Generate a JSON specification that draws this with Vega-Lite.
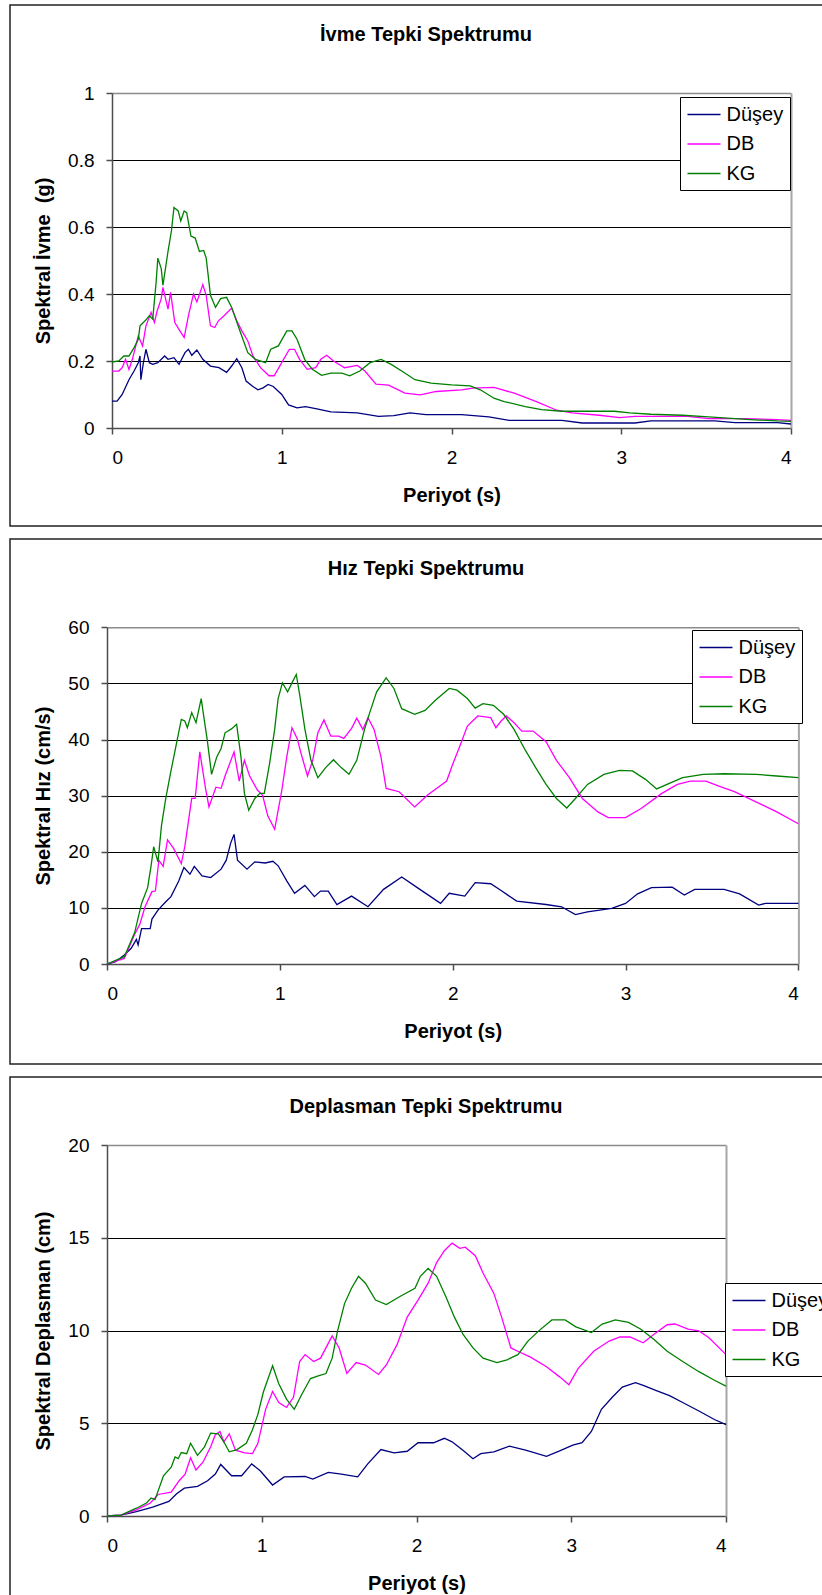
{
"$schema": "https://vega.github.io/schema/vega-lite/v6.json",
"padding": {"left": 9, "top": 4, "right": 0, "bottom": 0},
"background": "white",
"spacing": 11,
"config": {
  "font": "Liberation Sans",
  "view": {"stroke": "#222222", "strokeWidth": 1.5},
  "axis": {"labelFont": "Liberation Sans", "labelFontSize": 19, "labelColor": "black", "titleFont": "Liberation Sans", "titleFontSize": 20, "titleFontWeight": "bold", "titleColor": "black", "tickColor": "#4d4d4d", "tickSize": 6, "tickWidth": 1.5, "domainColor": "#4d4d4d", "domainWidth": 1.5, "gridColor": "black", "gridWidth": 1},
  "legend": {"labelFont": "Liberation Sans", "labelFontSize": 20, "labelColor": "black"},
  "title": {"font": "Liberation Sans", "fontSize": 20, "fontWeight": "bold", "color": "black", "baseline": "middle", "offset": -40}
},
"datasets": {
"ivme": [
{"periyot":0,"seri":"Düşey","deger":0.08},{"periyot":0.03,"seri":"Düşey","deger":0.08},{"periyot":0.06,"seri":"Düşey","deger":0.10},{"periyot":0.10,"seri":"Düşey","deger":0.144},{"periyot":0.13,"seri":"Düşey","deger":0.17},{"periyot":0.155,"seri":"Düşey","deger":0.195},{"periyot":0.165,"seri":"Düşey","deger":0.215},{"periyot":0.17,"seri":"Düşey","deger":0.144},{"periyot":0.185,"seri":"Düşey","deger":0.195},{"periyot":0.20,"seri":"Düşey","deger":0.235},{"periyot":0.22,"seri":"Düşey","deger":0.195},{"periyot":0.24,"seri":"Düşey","deger":0.19},{"periyot":0.27,"seri":"Düşey","deger":0.195},{"periyot":0.31,"seri":"Düşey","deger":0.215},{"periyot":0.33,"seri":"Düşey","deger":0.205},{"periyot":0.365,"seri":"Düşey","deger":0.21},{"periyot":0.395,"seri":"Düşey","deger":0.19},{"periyot":0.43,"seri":"Düşey","deger":0.225},{"periyot":0.45,"seri":"Düşey","deger":0.235},{"periyot":0.47,"seri":"Düşey","deger":0.217},{"periyot":0.50,"seri":"Düşey","deger":0.233},{"periyot":0.535,"seri":"Düşey","deger":0.205},{"periyot":0.58,"seri":"Düşey","deger":0.185},{"periyot":0.63,"seri":"Düşey","deger":0.18},{"periyot":0.675,"seri":"Düşey","deger":0.166},{"periyot":0.705,"seri":"Düşey","deger":0.185},{"periyot":0.735,"seri":"Düşey","deger":0.207},{"periyot":0.765,"seri":"Düşey","deger":0.18},{"periyot":0.79,"seri":"Düşey","deger":0.14},{"periyot":0.83,"seri":"Düşey","deger":0.124},{"periyot":0.86,"seri":"Düşey","deger":0.114},{"periyot":0.89,"seri":"Düşey","deger":0.12},{"periyot":0.92,"seri":"Düşey","deger":0.13},{"periyot":0.95,"seri":"Düşey","deger":0.124},{"periyot":1.0,"seri":"Düşey","deger":0.1},{"periyot":1.04,"seri":"Düşey","deger":0.069},{"periyot":1.09,"seri":"Düşey","deger":0.06},{"periyot":1.14,"seri":"Düşey","deger":0.064},{"periyot":1.2,"seri":"Düşey","deger":0.058},{"periyot":1.29,"seri":"Düşey","deger":0.048},{"periyot":1.445,"seri":"Düşey","deger":0.045},{"periyot":1.57,"seri":"Düşey","deger":0.035},{"periyot":1.66,"seri":"Düşey","deger":0.037},{"periyot":1.755,"seri":"Düşey","deger":0.045},{"periyot":1.85,"seri":"Düşey","deger":0.04},{"periyot":2.06,"seri":"Düşey","deger":0.04},{"periyot":2.22,"seri":"Düşey","deger":0.033},{"periyot":2.34,"seri":"Düşey","deger":0.023},{"periyot":2.65,"seri":"Düşey","deger":0.023},{"periyot":2.77,"seri":"Düşey","deger":0.015},{"periyot":3.08,"seri":"Düşey","deger":0.015},{"periyot":3.175,"seri":"Düşey","deger":0.021},{"periyot":3.55,"seri":"Düşey","deger":0.021},{"periyot":3.67,"seri":"Düşey","deger":0.016},{"periyot":3.92,"seri":"Düşey","deger":0.016},{"periyot":4.0,"seri":"Düşey","deger":0.012},
{"periyot":0,"seri":"DB","deger":0.17},{"periyot":0.04,"seri":"DB","deger":0.17},{"periyot":0.06,"seri":"DB","deger":0.18},{"periyot":0.08,"seri":"DB","deger":0.205},{"periyot":0.10,"seri":"DB","deger":0.175},{"periyot":0.12,"seri":"DB","deger":0.205},{"periyot":0.14,"seri":"DB","deger":0.245},{"periyot":0.155,"seri":"DB","deger":0.275},{"periyot":0.18,"seri":"DB","deger":0.245},{"periyot":0.20,"seri":"DB","deger":0.305},{"periyot":0.23,"seri":"DB","deger":0.345},{"periyot":0.25,"seri":"DB","deger":0.315},{"periyot":0.265,"seri":"DB","deger":0.348},{"periyot":0.29,"seri":"DB","deger":0.386},{"periyot":0.30,"seri":"DB","deger":0.42},{"periyot":0.33,"seri":"DB","deger":0.355},{"periyot":0.345,"seri":"DB","deger":0.405},{"periyot":0.37,"seri":"DB","deger":0.315},{"periyot":0.40,"seri":"DB","deger":0.29},{"periyot":0.425,"seri":"DB","deger":0.27},{"periyot":0.45,"seri":"DB","deger":0.335},{"periyot":0.48,"seri":"DB","deger":0.40},{"periyot":0.50,"seri":"DB","deger":0.376},{"periyot":0.535,"seri":"DB","deger":0.428},{"periyot":0.555,"seri":"DB","deger":0.395},{"periyot":0.58,"seri":"DB","deger":0.305},{"periyot":0.605,"seri":"DB","deger":0.30},{"periyot":0.627,"seri":"DB","deger":0.32},{"periyot":0.66,"seri":"DB","deger":0.335},{"periyot":0.705,"seri":"DB","deger":0.358},{"periyot":0.735,"seri":"DB","deger":0.32},{"periyot":0.765,"seri":"DB","deger":0.29},{"periyot":0.80,"seri":"DB","deger":0.26},{"periyot":0.83,"seri":"DB","deger":0.215},{"periyot":0.875,"seri":"DB","deger":0.18},{"periyot":0.925,"seri":"DB","deger":0.156},{"periyot":0.955,"seri":"DB","deger":0.156},{"periyot":1.0,"seri":"DB","deger":0.195},{"periyot":1.045,"seri":"DB","deger":0.235},{"periyot":1.075,"seri":"DB","deger":0.235},{"periyot":1.105,"seri":"DB","deger":0.205},{"periyot":1.15,"seri":"DB","deger":0.175},{"periyot":1.2,"seri":"DB","deger":0.18},{"periyot":1.23,"seri":"DB","deger":0.205},{"periyot":1.265,"seri":"DB","deger":0.217},{"periyot":1.305,"seri":"DB","deger":0.2},{"periyot":1.37,"seri":"DB","deger":0.18},{"periyot":1.445,"seri":"DB","deger":0.187},{"periyot":1.49,"seri":"DB","deger":0.17},{"periyot":1.555,"seri":"DB","deger":0.131},{"periyot":1.63,"seri":"DB","deger":0.128},{"periyot":1.725,"seri":"DB","deger":0.104},{"periyot":1.815,"seri":"DB","deger":0.099},{"periyot":1.91,"seri":"DB","deger":0.109},{"periyot":2.06,"seri":"DB","deger":0.114},{"periyot":2.125,"seri":"DB","deger":0.119},{"periyot":2.25,"seri":"DB","deger":0.121},{"periyot":2.37,"seri":"DB","deger":0.104},{"periyot":2.5,"seri":"DB","deger":0.079},{"periyot":2.62,"seri":"DB","deger":0.053},{"periyot":2.71,"seri":"DB","deger":0.045},{"periyot":2.87,"seri":"DB","deger":0.038},{"periyot":2.99,"seri":"DB","deger":0.031},{"periyot":3.08,"seri":"DB","deger":0.035},{"periyot":3.39,"seri":"DB","deger":0.035},{"periyot":3.515,"seri":"DB","deger":0.028},{"periyot":3.73,"seri":"DB","deger":0.028},{"periyot":3.92,"seri":"DB","deger":0.025},{"periyot":4.0,"seri":"DB","deger":0.023},
{"periyot":0,"seri":"KG","deger":0.197},{"periyot":0.04,"seri":"KG","deger":0.2},{"periyot":0.07,"seri":"KG","deger":0.215},{"periyot":0.10,"seri":"KG","deger":0.215},{"periyot":0.13,"seri":"KG","deger":0.24},{"periyot":0.155,"seri":"KG","deger":0.265},{"periyot":0.165,"seri":"KG","deger":0.305},{"periyot":0.195,"seri":"KG","deger":0.32},{"periyot":0.22,"seri":"KG","deger":0.335},{"periyot":0.24,"seri":"KG","deger":0.325},{"periyot":0.26,"seri":"KG","deger":0.436},{"periyot":0.27,"seri":"KG","deger":0.507},{"periyot":0.29,"seri":"KG","deger":0.476},{"periyot":0.30,"seri":"KG","deger":0.426},{"periyot":0.33,"seri":"KG","deger":0.527},{"periyot":0.35,"seri":"KG","deger":0.588},{"periyot":0.365,"seri":"KG","deger":0.658},{"periyot":0.39,"seri":"KG","deger":0.648},{"periyot":0.405,"seri":"KG","deger":0.618},{"periyot":0.425,"seri":"KG","deger":0.648},{"periyot":0.44,"seri":"KG","deger":0.643},{"periyot":0.465,"seri":"KG","deger":0.573},{"periyot":0.49,"seri":"KG","deger":0.567},{"periyot":0.515,"seri":"KG","deger":0.527},{"periyot":0.54,"seri":"KG","deger":0.53},{"periyot":0.555,"seri":"KG","deger":0.507},{"periyot":0.58,"seri":"KG","deger":0.396},{"periyot":0.61,"seri":"KG","deger":0.36},{"periyot":0.64,"seri":"KG","deger":0.386},{"periyot":0.675,"seri":"KG","deger":0.39},{"periyot":0.705,"seri":"KG","deger":0.36},{"periyot":0.75,"seri":"KG","deger":0.295},{"periyot":0.80,"seri":"KG","deger":0.225},{"periyot":0.845,"seri":"KG","deger":0.205},{"periyot":0.905,"seri":"KG","deger":0.195},{"periyot":0.935,"seri":"KG","deger":0.235},{"periyot":0.98,"seri":"KG","deger":0.245},{"periyot":1.03,"seri":"KG","deger":0.29},{"periyot":1.06,"seri":"KG","deger":0.29},{"periyot":1.09,"seri":"KG","deger":0.265},{"periyot":1.135,"seri":"KG","deger":0.205},{"periyot":1.18,"seri":"KG","deger":0.175},{"periyot":1.235,"seri":"KG","deger":0.157},{"periyot":1.29,"seri":"KG","deger":0.164},{"periyot":1.355,"seri":"KG","deger":0.164},{"periyot":1.40,"seri":"KG","deger":0.156},{"periyot":1.46,"seri":"KG","deger":0.17},{"periyot":1.52,"seri":"KG","deger":0.195},{"periyot":1.585,"seri":"KG","deger":0.205},{"periyot":1.645,"seri":"KG","deger":0.19},{"periyot":1.725,"seri":"KG","deger":0.164},{"periyot":1.785,"seri":"KG","deger":0.144},{"periyot":1.88,"seri":"KG","deger":0.134},{"periyot":2.0,"seri":"KG","deger":0.129},{"periyot":2.11,"seri":"KG","deger":0.126},{"periyot":2.17,"seri":"KG","deger":0.114},{"periyot":2.25,"seri":"KG","deger":0.089},{"periyot":2.31,"seri":"KG","deger":0.079},{"periyot":2.435,"seri":"KG","deger":0.064},{"periyot":2.53,"seri":"KG","deger":0.055},{"periyot":2.65,"seri":"KG","deger":0.05},{"periyot":2.96,"seri":"KG","deger":0.05},{"periyot":3.05,"seri":"KG","deger":0.045},{"periyot":3.175,"seri":"KG","deger":0.041},{"periyot":3.36,"seri":"KG","deger":0.038},{"periyot":3.515,"seri":"KG","deger":0.033},{"periyot":3.76,"seri":"KG","deger":0.025},{"periyot":3.92,"seri":"KG","deger":0.021},{"periyot":4.0,"seri":"KG","deger":0.02}
],
"hiz": [
{"periyot":0,"seri":"Düşey","deger":0},{"periyot":0.05,"seri":"Düşey","deger":0.4},{"periyot":0.1,"seri":"Düşey","deger":1.6},{"periyot":0.14,"seri":"Düşey","deger":2.8},{"periyot":0.17,"seri":"Düşey","deger":4.4},{"periyot":0.18,"seri":"Düşey","deger":3.4},{"periyot":0.2,"seri":"Düşey","deger":6.3},{"periyot":0.25,"seri":"Düşey","deger":6.3},{"periyot":0.26,"seri":"Düşey","deger":8},{"periyot":0.295,"seri":"Düşey","deger":9.6},{"periyot":0.34,"seri":"Düşey","deger":11.1},{"periyot":0.37,"seri":"Düşey","deger":12},{"periyot":0.415,"seri":"Düşey","deger":14.8},{"periyot":0.445,"seri":"Düşey","deger":17.2},{"periyot":0.48,"seri":"Düşey","deger":16},{"periyot":0.505,"seri":"Düşey","deger":17.4},{"periyot":0.55,"seri":"Düşey","deger":15.7},{"periyot":0.6,"seri":"Düşey","deger":15.4},{"periyot":0.66,"seri":"Düşey","deger":16.9},{"periyot":0.69,"seri":"Düşey","deger":18.5},{"periyot":0.715,"seri":"Düşey","deger":21.5},{"periyot":0.735,"seri":"Düşey","deger":23.1},{"periyot":0.755,"seri":"Düşey","deger":18.5},{"periyot":0.81,"seri":"Düşey","deger":16.9},{"periyot":0.855,"seri":"Düşey","deger":18.2},{"periyot":0.915,"seri":"Düşey","deger":18},{"periyot":0.96,"seri":"Düşey","deger":18.3},{"periyot":0.99,"seri":"Düşey","deger":17.5},{"periyot":1.04,"seri":"Düşey","deger":14.8},{"periyot":1.085,"seri":"Düşey","deger":12.6},{"periyot":1.145,"seri":"Düşey","deger":14},{"periyot":1.2,"seri":"Düşey","deger":12},{"periyot":1.235,"seri":"Düşey","deger":13},{"periyot":1.28,"seri":"Düşey","deger":13},{"periyot":1.33,"seri":"Düşey","deger":10.6},{"periyot":1.415,"seri":"Düşey","deger":12.1},{"periyot":1.51,"seri":"Düşey","deger":10.2},{"periyot":1.6,"seri":"Düşey","deger":13.3},{"periyot":1.705,"seri":"Düşey","deger":15.5},{"periyot":1.81,"seri":"Düşey","deger":13.3},{"periyot":1.93,"seri":"Düşey","deger":10.8},{"periyot":1.98,"seri":"Düşey","deger":12.6},{"periyot":2.07,"seri":"Düşey","deger":12.1},{"periyot":2.13,"seri":"Düşey","deger":14.5},{"periyot":2.22,"seri":"Düşey","deger":14.3},{"periyot":2.28,"seri":"Düşey","deger":13.1},{"periyot":2.37,"seri":"Düşey","deger":11.2},{"periyot":2.54,"seri":"Düşey","deger":10.6},{"periyot":2.63,"seri":"Düşey","deger":10.2},{"periyot":2.71,"seri":"Düşey","deger":8.8},{"periyot":2.78,"seri":"Düşey","deger":9.3},{"periyot":2.92,"seri":"Düşey","deger":9.9},{"periyot":3.0,"seri":"Düşey","deger":10.8},{"periyot":3.07,"seri":"Düşey","deger":12.5},{"periyot":3.15,"seri":"Düşey","deger":13.6},{"periyot":3.27,"seri":"Düşey","deger":13.7},{"periyot":3.34,"seri":"Düşey","deger":12.3},{"periyot":3.4,"seri":"Düşey","deger":13.3},{"periyot":3.57,"seri":"Düşey","deger":13.3},{"periyot":3.66,"seri":"Düşey","deger":12.5},{"periyot":3.77,"seri":"Düşey","deger":10.5},{"periyot":3.81,"seri":"Düşey","deger":10.8},{"periyot":4.0,"seri":"Düşey","deger":10.8},
{"periyot":0,"seri":"DB","deger":0},{"periyot":0.1,"seri":"DB","deger":1},{"periyot":0.16,"seri":"DB","deger":5.3},{"periyot":0.19,"seri":"DB","deger":7.1},{"periyot":0.22,"seri":"DB","deger":10.2},{"periyot":0.26,"seri":"DB","deger":12.9},{"periyot":0.28,"seri":"DB","deger":13},{"periyot":0.3,"seri":"DB","deger":18.5},{"periyot":0.325,"seri":"DB","deger":17.4},{"periyot":0.35,"seri":"DB","deger":22.1},{"periyot":0.385,"seri":"DB","deger":20.6},{"periyot":0.43,"seri":"DB","deger":17.9},{"periyot":0.45,"seri":"DB","deger":20.9},{"periyot":0.47,"seri":"DB","deger":25.2},{"periyot":0.49,"seri":"DB","deger":29.5},{"periyot":0.51,"seri":"DB","deger":29.5},{"periyot":0.537,"seri":"DB","deger":37.8},{"periyot":0.57,"seri":"DB","deger":31.3},{"periyot":0.59,"seri":"DB","deger":28},{"periyot":0.63,"seri":"DB","deger":31.5},{"periyot":0.66,"seri":"DB","deger":31.3},{"periyot":0.683,"seri":"DB","deger":33.5},{"periyot":0.735,"seri":"DB","deger":37.8},{"periyot":0.765,"seri":"DB","deger":32.6},{"periyot":0.795,"seri":"DB","deger":36.3},{"periyot":0.825,"seri":"DB","deger":33.5},{"periyot":0.87,"seri":"DB","deger":31},{"periyot":0.9,"seri":"DB","deger":30.1},{"periyot":0.93,"seri":"DB","deger":26.4},{"periyot":0.97,"seri":"DB","deger":24},{"periyot":1.01,"seri":"DB","deger":30.7},{"periyot":1.04,"seri":"DB","deger":36.9},{"periyot":1.07,"seri":"DB","deger":42.1},{"periyot":1.1,"seri":"DB","deger":40.2},{"periyot":1.12,"seri":"DB","deger":37.8},{"periyot":1.16,"seri":"DB","deger":33.5},{"periyot":1.19,"seri":"DB","deger":36.3},{"periyot":1.22,"seri":"DB","deger":41.2},{"periyot":1.255,"seri":"DB","deger":43.5},{"periyot":1.295,"seri":"DB","deger":40.6},{"periyot":1.34,"seri":"DB","deger":40.6},{"periyot":1.37,"seri":"DB","deger":40.2},{"periyot":1.415,"seri":"DB","deger":42},{"periyot":1.445,"seri":"DB","deger":43.8},{"periyot":1.48,"seri":"DB","deger":41.8},{"periyot":1.51,"seri":"DB","deger":43.9},{"periyot":1.545,"seri":"DB","deger":41.8},{"periyot":1.585,"seri":"DB","deger":36.9},{"periyot":1.615,"seri":"DB","deger":31.3},{"periyot":1.69,"seri":"DB","deger":30.7},{"periyot":1.78,"seri":"DB","deger":28},{"periyot":1.855,"seri":"DB","deger":30.1},{"periyot":1.965,"seri":"DB","deger":32.6},{"periyot":2.0,"seri":"DB","deger":35.6},{"periyot":2.04,"seri":"DB","deger":38.7},{"periyot":2.085,"seri":"DB","deger":42.4},{"periyot":2.145,"seri":"DB","deger":44.2},{"periyot":2.22,"seri":"DB","deger":43.9},{"periyot":2.25,"seri":"DB","deger":42.1},{"periyot":2.28,"seri":"DB","deger":43.3},{"periyot":2.31,"seri":"DB","deger":44.2},{"periyot":2.355,"seri":"DB","deger":43},{"periyot":2.4,"seri":"DB","deger":41.5},{"periyot":2.465,"seri":"DB","deger":41.5},{"periyot":2.54,"seri":"DB","deger":39.6},{"periyot":2.6,"seri":"DB","deger":36.3},{"periyot":2.675,"seri":"DB","deger":33.2},{"periyot":2.75,"seri":"DB","deger":29.5},{"periyot":2.84,"seri":"DB","deger":27.1},{"periyot":2.9,"seri":"DB","deger":26.1},{"periyot":3.0,"seri":"DB","deger":26.1},{"periyot":3.09,"seri":"DB","deger":27.7},{"periyot":3.21,"seri":"DB","deger":30.4},{"periyot":3.3,"seri":"DB","deger":32},{"periyot":3.375,"seri":"DB","deger":32.6},{"periyot":3.465,"seri":"DB","deger":32.6},{"periyot":3.54,"seri":"DB","deger":31.7},{"periyot":3.63,"seri":"DB","deger":30.7},{"periyot":3.755,"seri":"DB","deger":28.9},{"periyot":3.875,"seri":"DB","deger":27.1},{"periyot":4.0,"seri":"DB","deger":25},
{"periyot":0,"seri":"KG","deger":0},{"periyot":0.1,"seri":"KG","deger":1.3},{"periyot":0.16,"seri":"KG","deger":5.6},{"periyot":0.2,"seri":"KG","deger":10.8},{"periyot":0.235,"seri":"KG","deger":13.6},{"periyot":0.255,"seri":"KG","deger":17.5},{"periyot":0.27,"seri":"KG","deger":20.9},{"periyot":0.295,"seri":"KG","deger":18.2},{"periyot":0.315,"seri":"KG","deger":24.6},{"periyot":0.34,"seri":"KG","deger":29.5},{"periyot":0.37,"seri":"KG","deger":34.4},{"periyot":0.4,"seri":"KG","deger":39},{"periyot":0.43,"seri":"KG","deger":43.6},{"periyot":0.45,"seri":"KG","deger":43.3},{"periyot":0.465,"seri":"KG","deger":42.1},{"periyot":0.49,"seri":"KG","deger":44.8},{"periyot":0.515,"seri":"KG","deger":43},{"periyot":0.545,"seri":"KG","deger":47.3},{"periyot":0.565,"seri":"KG","deger":43},{"periyot":0.58,"seri":"KG","deger":39.9},{"periyot":0.605,"seri":"KG","deger":33.8},{"periyot":0.635,"seri":"KG","deger":36.9},{"periyot":0.66,"seri":"KG","deger":38.4},{"periyot":0.683,"seri":"KG","deger":41.2},{"periyot":0.72,"seri":"KG","deger":41.9},{"periyot":0.75,"seri":"KG","deger":42.7},{"periyot":0.775,"seri":"KG","deger":36.9},{"periyot":0.795,"seri":"KG","deger":30.4},{"periyot":0.82,"seri":"KG","deger":27.4},{"periyot":0.855,"seri":"KG","deger":29.5},{"periyot":0.885,"seri":"KG","deger":30.4},{"periyot":0.91,"seri":"KG","deger":30.4},{"periyot":0.94,"seri":"KG","deger":35.6},{"periyot":0.97,"seri":"KG","deger":41.8},{"periyot":0.99,"seri":"KG","deger":47.3},{"periyot":1.015,"seri":"KG","deger":50.1},{"periyot":1.045,"seri":"KG","deger":48.5},{"periyot":1.07,"seri":"KG","deger":50.1},{"periyot":1.095,"seri":"KG","deger":51.6},{"periyot":1.115,"seri":"KG","deger":47.9},{"periyot":1.145,"seri":"KG","deger":41.8},{"periyot":1.18,"seri":"KG","deger":36.3},{"periyot":1.22,"seri":"KG","deger":33.2},{"periyot":1.265,"seri":"KG","deger":35},{"periyot":1.31,"seri":"KG","deger":36.4},{"periyot":1.355,"seri":"KG","deger":35},{"periyot":1.4,"seri":"KG","deger":33.8},{"periyot":1.445,"seri":"KG","deger":36.3},{"periyot":1.49,"seri":"KG","deger":41.8},{"periyot":1.52,"seri":"KG","deger":44.8},{"periyot":1.56,"seri":"KG","deger":48.5},{"periyot":1.615,"seri":"KG","deger":51},{"periyot":1.66,"seri":"KG","deger":49.1},{"periyot":1.705,"seri":"KG","deger":45.5},{"periyot":1.78,"seri":"KG","deger":44.5},{"periyot":1.84,"seri":"KG","deger":45.2},{"periyot":1.9,"seri":"KG","deger":47},{"periyot":1.98,"seri":"KG","deger":49.1},{"periyot":2.025,"seri":"KG","deger":48.8},{"periyot":2.085,"seri":"KG","deger":47.3},{"periyot":2.13,"seri":"KG","deger":45.6},{"periyot":2.175,"seri":"KG","deger":46.4},{"periyot":2.235,"seri":"KG","deger":46.1},{"periyot":2.295,"seri":"KG","deger":44.5},{"periyot":2.355,"seri":"KG","deger":41.8},{"periyot":2.42,"seri":"KG","deger":38.1},{"periyot":2.48,"seri":"KG","deger":35},{"periyot":2.54,"seri":"KG","deger":32},{"periyot":2.6,"seri":"KG","deger":29.5},{"periyot":2.66,"seri":"KG","deger":27.8},{"periyot":2.71,"seri":"KG","deger":29.5},{"periyot":2.78,"seri":"KG","deger":32},{"periyot":2.875,"seri":"KG","deger":33.8},{"periyot":2.965,"seri":"KG","deger":34.5},{"periyot":3.04,"seri":"KG","deger":34.4},{"periyot":3.115,"seri":"KG","deger":32.9},{"periyot":3.18,"seri":"KG","deger":31.2},{"periyot":3.24,"seri":"KG","deger":32},{"periyot":3.33,"seri":"KG","deger":33.2},{"periyot":3.45,"seri":"KG","deger":33.8},{"periyot":3.57,"seri":"KG","deger":33.9},{"periyot":3.755,"seri":"KG","deger":33.8},{"periyot":3.875,"seri":"KG","deger":33.5},{"periyot":4.0,"seri":"KG","deger":33.2}
],
"depl": [
{"periyot":0,"seri":"Düşey","deger":0},{"periyot":0.09,"seri":"Düşey","deger":0.05},{"periyot":0.19,"seri":"Düşey","deger":0.24},{"periyot":0.295,"seri":"Düşey","deger":0.48},{"periyot":0.4,"seri":"Düşey","deger":0.79},{"periyot":0.45,"seri":"Düşey","deger":1.2},{"periyot":0.5,"seri":"Düşey","deger":1.5},{"periyot":0.585,"seri":"Düşey","deger":1.6},{"periyot":0.65,"seri":"Düşey","deger":1.9},{"periyot":0.7,"seri":"Düşey","deger":2.26},{"periyot":0.735,"seri":"Düşey","deger":2.78},{"periyot":0.805,"seri":"Düşey","deger":2.17},{"periyot":0.87,"seri":"Düşey","deger":2.17},{"periyot":0.935,"seri":"Düşey","deger":2.81},{"periyot":0.99,"seri":"Düşey","deger":2.44},{"periyot":1.07,"seri":"Düşey","deger":1.67},{"periyot":1.145,"seri":"Düşey","deger":2.11},{"periyot":1.28,"seri":"Düşey","deger":2.13},{"periyot":1.33,"seri":"Düşey","deger":1.99},{"periyot":1.43,"seri":"Düşey","deger":2.35},{"periyot":1.515,"seri":"Düşey","deger":2.26},{"periyot":1.62,"seri":"Düşey","deger":2.11},{"periyot":1.685,"seri":"Düşey","deger":2.81},{"periyot":1.77,"seri":"Düşey","deger":3.58},{"periyot":1.855,"seri":"Düşey","deger":3.4},{"periyot":1.94,"seri":"Düşey","deger":3.49},{"periyot":2.01,"seri":"Düşey","deger":3.95},{"periyot":2.11,"seri":"Düşey","deger":3.95},{"periyot":2.18,"seri":"Düşey","deger":4.19},{"periyot":2.23,"seri":"Düşey","deger":4.0},{"periyot":2.3,"seri":"Düşey","deger":3.55},{"periyot":2.365,"seri":"Düşey","deger":3.09},{"periyot":2.415,"seri":"Düşey","deger":3.36},{"periyot":2.5,"seri":"Düşey","deger":3.46},{"periyot":2.6,"seri":"Düşey","deger":3.77},{"periyot":2.705,"seri":"Düşey","deger":3.55},{"periyot":2.84,"seri":"Düşey","deger":3.22},{"periyot":2.925,"seri":"Düşey","deger":3.51},{"periyot":3.01,"seri":"Düşey","deger":3.82},{"periyot":3.07,"seri":"Düşey","deger":3.95},{"periyot":3.13,"seri":"Düşey","deger":4.56},{"periyot":3.195,"seri":"Düşey","deger":5.75},{"periyot":3.265,"seri":"Düşey","deger":6.4},{"periyot":3.33,"seri":"Düşey","deger":6.95},{"periyot":3.415,"seri":"Düşey","deger":7.19},{"periyot":3.465,"seri":"Düşey","deger":7.04},{"periyot":3.55,"seri":"Düşey","deger":6.76},{"periyot":3.635,"seri":"Düşey","deger":6.49},{"periyot":3.72,"seri":"Düşey","deger":6.12},{"periyot":3.825,"seri":"Düşey","deger":5.66},{"periyot":3.925,"seri":"Düşey","deger":5.2},{"periyot":4.0,"seri":"Düşey","deger":4.93},
{"periyot":0,"seri":"DB","deger":0},{"periyot":0.09,"seri":"DB","deger":0.05},{"periyot":0.19,"seri":"DB","deger":0.33},{"periyot":0.28,"seri":"DB","deger":0.7},{"periyot":0.33,"seri":"DB","deger":1.16},{"periyot":0.415,"seri":"DB","deger":1.29},{"periyot":0.465,"seri":"DB","deger":1.89},{"periyot":0.505,"seri":"DB","deger":2.26},{"periyot":0.54,"seri":"DB","deger":3.14},{"periyot":0.575,"seri":"DB","deger":2.48},{"periyot":0.62,"seri":"DB","deger":2.9},{"periyot":0.67,"seri":"DB","deger":3.73},{"periyot":0.7,"seri":"DB","deger":4.38},{"periyot":0.73,"seri":"DB","deger":4.56},{"periyot":0.755,"seri":"DB","deger":4.0},{"periyot":0.79,"seri":"DB","deger":4.43},{"periyot":0.83,"seri":"DB","deger":3.55},{"periyot":0.89,"seri":"DB","deger":3.4},{"periyot":0.94,"seri":"DB","deger":3.36},{"periyot":0.975,"seri":"DB","deger":3.92},{"periyot":1.025,"seri":"DB","deger":5.75},{"periyot":1.07,"seri":"DB","deger":6.71},{"periyot":1.11,"seri":"DB","deger":6.12},{"periyot":1.16,"seri":"DB","deger":5.85},{"periyot":1.205,"seri":"DB","deger":6.4},{"periyot":1.245,"seri":"DB","deger":8.33},{"periyot":1.28,"seri":"DB","deger":8.7},{"periyot":1.335,"seri":"DB","deger":8.33},{"periyot":1.38,"seri":"DB","deger":8.51},{"periyot":1.455,"seri":"DB","deger":9.71},{"periyot":1.5,"seri":"DB","deger":9.06},{"periyot":1.55,"seri":"DB","deger":7.68},{"periyot":1.61,"seri":"DB","deger":8.27},{"periyot":1.67,"seri":"DB","deger":8.14},{"periyot":1.755,"seri":"DB","deger":7.63},{"periyot":1.805,"seri":"DB","deger":8.14},{"periyot":1.875,"seri":"DB","deger":9.25},{"periyot":1.94,"seri":"DB","deger":10.72},{"periyot":2.01,"seri":"DB","deger":11.64},{"periyot":2.075,"seri":"DB","deger":12.55},{"periyot":2.13,"seri":"DB","deger":13.66},{"periyot":2.18,"seri":"DB","deger":14.3},{"periyot":2.23,"seri":"DB","deger":14.71},{"periyot":2.28,"seri":"DB","deger":14.43},{"periyot":2.315,"seri":"DB","deger":14.49},{"periyot":2.38,"seri":"DB","deger":14.03},{"periyot":2.43,"seri":"DB","deger":13.1},{"periyot":2.5,"seri":"DB","deger":12},{"periyot":2.55,"seri":"DB","deger":10.72},{"periyot":2.61,"seri":"DB","deger":9.06},{"periyot":2.655,"seri":"DB","deger":8.88},{"periyot":2.74,"seri":"DB","deger":8.55},{"periyot":2.84,"seri":"DB","deger":8.05},{"periyot":2.925,"seri":"DB","deger":7.5},{"periyot":2.985,"seri":"DB","deger":7.08},{"periyot":3.045,"seri":"DB","deger":7.96},{"periyot":3.145,"seri":"DB","deger":8.88},{"periyot":3.245,"seri":"DB","deger":9.43},{"periyot":3.315,"seri":"DB","deger":9.65},{"periyot":3.38,"seri":"DB","deger":9.65},{"periyot":3.465,"seri":"DB","deger":9.34},{"periyot":3.535,"seri":"DB","deger":9.8},{"periyot":3.62,"seri":"DB","deger":10.31},{"periyot":3.67,"seri":"DB","deger":10.35},{"periyot":3.755,"seri":"DB","deger":10.07},{"periyot":3.825,"seri":"DB","deger":9.98},{"periyot":3.89,"seri":"DB","deger":9.61},{"periyot":4.0,"seri":"DB","deger":8.7},
{"periyot":0,"seri":"KG","deger":0},{"periyot":0.09,"seri":"KG","deger":0.05},{"periyot":0.19,"seri":"KG","deger":0.42},{"periyot":0.255,"seri":"KG","deger":0.7},{"periyot":0.285,"seri":"KG","deger":0.97},{"periyot":0.31,"seri":"KG","deger":0.88},{"periyot":0.365,"seri":"KG","deger":2.17},{"periyot":0.415,"seri":"KG","deger":2.63},{"periyot":0.44,"seri":"KG","deger":3.18},{"periyot":0.46,"seri":"KG","deger":3.09},{"periyot":0.48,"seri":"KG","deger":3.42},{"periyot":0.515,"seri":"KG","deger":3.36},{"periyot":0.54,"seri":"KG","deger":3.92},{"periyot":0.585,"seri":"KG","deger":3.27},{"periyot":0.63,"seri":"KG","deger":3.73},{"periyot":0.67,"seri":"KG","deger":4.47},{"periyot":0.72,"seri":"KG","deger":4.43},{"periyot":0.755,"seri":"KG","deger":4.0},{"periyot":0.79,"seri":"KG","deger":3.46},{"periyot":0.84,"seri":"KG","deger":3.58},{"periyot":0.9,"seri":"KG","deger":3.92},{"periyot":0.94,"seri":"KG","deger":4.65},{"periyot":0.975,"seri":"KG","deger":5.48},{"periyot":1.01,"seri":"KG","deger":6.67},{"periyot":1.07,"seri":"KG","deger":8.1},{"periyot":1.11,"seri":"KG","deger":7.13},{"periyot":1.16,"seri":"KG","deger":6.3},{"periyot":1.21,"seri":"KG","deger":5.75},{"periyot":1.26,"seri":"KG","deger":6.58},{"periyot":1.315,"seri":"KG","deger":7.41},{"periyot":1.365,"seri":"KG","deger":7.55},{"periyot":1.415,"seri":"KG","deger":7.68},{"periyot":1.455,"seri":"KG","deger":8.51},{"periyot":1.49,"seri":"KG","deger":9.98},{"periyot":1.535,"seri":"KG","deger":11.45},{"periyot":1.58,"seri":"KG","deger":12.28},{"periyot":1.625,"seri":"KG","deger":12.92},{"periyot":1.67,"seri":"KG","deger":12.55},{"periyot":1.735,"seri":"KG","deger":11.64},{"periyot":1.805,"seri":"KG","deger":11.4},{"periyot":1.89,"seri":"KG","deger":11.82},{"periyot":1.99,"seri":"KG","deger":12.28},{"periyot":2.025,"seri":"KG","deger":12.92},{"periyot":2.075,"seri":"KG","deger":13.35},{"periyot":2.13,"seri":"KG","deger":12.92},{"periyot":2.19,"seri":"KG","deger":11.82},{"periyot":2.245,"seri":"KG","deger":10.72},{"periyot":2.3,"seri":"KG","deger":9.8},{"periyot":2.365,"seri":"KG","deger":9.06},{"periyot":2.43,"seri":"KG","deger":8.51},{"periyot":2.52,"seri":"KG","deger":8.27},{"periyot":2.585,"seri":"KG","deger":8.42},{"periyot":2.655,"seri":"KG","deger":8.7},{"periyot":2.72,"seri":"KG","deger":9.43},{"periyot":2.79,"seri":"KG","deger":9.98},{"periyot":2.875,"seri":"KG","deger":10.57},{"periyot":2.96,"seri":"KG","deger":10.57},{"periyot":3.03,"seri":"KG","deger":10.2},{"periyot":3.13,"seri":"KG","deger":9.89},{"periyot":3.2,"seri":"KG","deger":10.35},{"periyot":3.285,"seri":"KG","deger":10.57},{"periyot":3.37,"seri":"KG","deger":10.44},{"periyot":3.45,"seri":"KG","deger":10.07},{"periyot":3.535,"seri":"KG","deger":9.52},{"periyot":3.62,"seri":"KG","deger":8.88},{"periyot":3.72,"seri":"KG","deger":8.33},{"periyot":3.825,"seri":"KG","deger":7.78},{"periyot":3.925,"seri":"KG","deger":7.32},{"periyot":4.0,"seri":"KG","deger":7.0}
]
},
"resolve": {"scale": {"color": "independent"}, "legend": {"color": "independent"}},
"vconcat": [
{
  "width": 832, "height": 521,
  "title": {"text": "İvme Tepki Spektrumu"},
  "data": {"name": "ivme"},
  "resolve": {"axis": {"x": "independent", "y": "independent"}},
  "layer": [
    {"mark": {"type": "line", "strokeWidth": 1.3},
     "encoding": {
       "x": {"field": "periyot", "type": "quantitative", "scale": {"domain": [0, 4], "range": [102, 781], "nice": false, "zero": false},
             "axis": {"orient": "bottom", "values": [0, 1, 2, 3, 4], "offset": -98, "grid": false, "title": "Periyot (s)", "titleY": 67, "titleBaseline": "middle", "labelPadding": 14}},
       "y": {"field": "deger", "type": "quantitative", "scale": {"domain": [0, 1], "range": [423, 88], "nice": false},
             "axis": {"orient": "left", "values": [0, 0.2, 0.4, 0.6, 0.8, 1], "format": "~g", "offset": -102, "grid": true, "gridOpacity": {"condition": {"test": "datum.value >= 1", "value": 0}, "value": 1}, "title": "Spektral İvme\u00a0 (g)", "titleX": -69, "titleBaseline": "middle", "labelPadding": 12}},
       "color": {"field": "seri", "type": "nominal", "scale": {"domain": ["Düşey", "DB", "KG"], "range": ["#000080", "#ff00ff", "#008000"]},
             "legend": {"orient": "none", "legendX": 670, "legendY": 92, "title": null, "symbolType": "M-1.65,0H1.65", "symbolSize": 400, "symbolStrokeWidth": 1.5, "symbolOffset": 6.5, "labelOffset": 11.5, "labelFontSize": 20, "labelFont": "Liberation Sans", "padding": 6.5, "rowPadding": 8.5, "strokeColor": "black", "fillColor": "white"}}
     }},
    {"mark": {"type": "line", "opacity": 0},
     "encoding": {
       "x": {"field": "periyot", "type": "quantitative", "axis": {"orient": "top", "offset": -88, "labels": false, "ticks": false, "grid": false, "title": null, "domainColor": "#8c8c8c", "domainWidth": 1.5}},
       "y": {"field": "deger", "type": "quantitative", "axis": {"orient": "right", "offset": -51, "labels": false, "ticks": false, "grid": false, "title": null, "domainColor": "#a6a6a6", "domainWidth": 2}},
       "detail": {"field": "seri"}
     }}
  ]
},
{
  "width": 832, "height": 525,
  "title": {"text": "Hız Tepki Spektrumu"},
  "data": {"name": "hiz"},
  "resolve": {"axis": {"x": "independent", "y": "independent"}},
  "layer": [
    {"mark": {"type": "line", "strokeWidth": 1.3},
     "encoding": {
       "x": {"field": "periyot", "type": "quantitative", "scale": {"domain": [0, 4], "range": [97, 788.4], "nice": false, "zero": false},
             "axis": {"orient": "bottom", "values": [0, 1, 2, 3, 4], "offset": -100, "grid": false, "title": "Periyot (s)", "titleY": 67, "titleBaseline": "middle", "labelPadding": 14}},
       "y": {"field": "deger", "type": "quantitative", "scale": {"domain": [0, 60], "range": [425, 88.3], "nice": false},
             "axis": {"orient": "left", "values": [0, 10, 20, 30, 40, 50, 60], "offset": -97, "grid": true, "gridOpacity": {"condition": {"test": "datum.value >= 60", "value": 0}, "value": 1}, "title": "Spektral Hız (cm/s)", "titleX": -64, "titleBaseline": "middle", "labelPadding": 12}},
       "color": {"field": "seri", "type": "nominal", "scale": {"domain": ["Düşey", "DB", "KG"], "range": ["#000080", "#ff00ff", "#008000"]},
             "legend": {"orient": "none", "legendX": 682, "legendY": 91, "title": null, "symbolType": "M-1.65,0H1.65", "symbolSize": 400, "symbolStrokeWidth": 1.5, "symbolOffset": 6.5, "labelOffset": 11.5, "labelFontSize": 20, "labelFont": "Liberation Sans", "padding": 6.5, "rowPadding": 8.5, "strokeColor": "black", "fillColor": "white"}}
     }},
    {"mark": {"type": "line", "opacity": 0},
     "encoding": {
       "x": {"field": "periyot", "type": "quantitative", "axis": {"orient": "top", "offset": -88.3, "labels": false, "ticks": false, "grid": false, "title": null, "domainColor": "#8c8c8c", "domainWidth": 1.5}},
       "y": {"field": "deger", "type": "quantitative", "axis": {"orient": "right", "offset": -43.6, "labels": false, "ticks": false, "grid": false, "title": null, "domainColor": "#a6a6a6", "domainWidth": 2}},
       "detail": {"field": "seri"}
     }}
  ]
},
{
  "width": 832, "height": 540,
  "title": {"text": "Deplasman Tepki Spektrumu"},
  "data": {"name": "depl"},
  "resolve": {"axis": {"x": "independent", "y": "independent"}},
  "layer": [
    {"mark": {"type": "line", "strokeWidth": 1.3},
     "encoding": {
       "x": {"field": "periyot", "type": "quantitative", "scale": {"domain": [0, 4], "range": [97, 716], "nice": false, "zero": false},
             "axis": {"orient": "bottom", "values": [0, 1, 2, 3, 4], "offset": -101, "grid": false, "title": "Periyot (s)", "titleY": 67, "titleBaseline": "middle", "labelPadding": 14}},
       "y": {"field": "deger", "type": "quantitative", "scale": {"domain": [0, 20], "range": [439, 68], "nice": false},
             "axis": {"orient": "left", "values": [0, 5, 10, 15, 20], "offset": -97, "grid": true, "gridOpacity": {"condition": {"test": "datum.value >= 20", "value": 0}, "value": 1}, "title": "Spektral Deplasman (cm)", "titleX": -64, "titleBaseline": "middle", "labelPadding": 12}},
       "color": {"field": "seri", "type": "nominal", "scale": {"domain": ["Düşey", "DB", "KG"], "range": ["#000080", "#ff00ff", "#008000"]},
             "legend": {"orient": "none", "legendX": 715, "legendY": 206, "title": null, "symbolType": "M-1.65,0H1.65", "symbolSize": 400, "symbolStrokeWidth": 1.5, "symbolOffset": 6.5, "labelOffset": 11.5, "labelFontSize": 20, "labelFont": "Liberation Sans", "padding": 6.5, "rowPadding": 8.5, "strokeColor": "black", "fillColor": "white"}}
     }},
    {"mark": {"type": "line", "opacity": 0},
     "encoding": {
       "x": {"field": "periyot", "type": "quantitative", "axis": {"orient": "top", "offset": -68, "labels": false, "ticks": false, "grid": false, "title": null, "domainColor": "#8c8c8c", "domainWidth": 1.5}},
       "y": {"field": "deger", "type": "quantitative", "axis": {"orient": "right", "offset": -116, "labels": false, "ticks": false, "grid": false, "title": null, "domainColor": "#a6a6a6", "domainWidth": 2}},
       "detail": {"field": "seri"}
     }}
  ]
}
]
}
